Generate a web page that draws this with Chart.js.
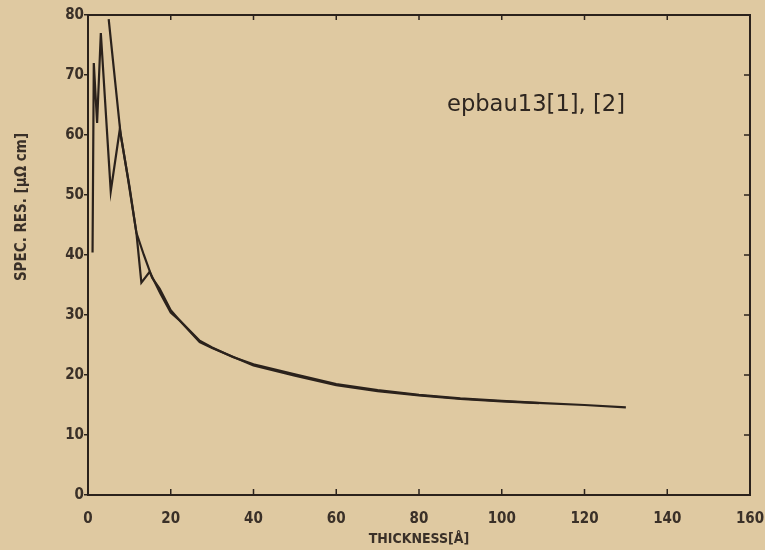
<!DOCTYPE html>
<html>
<head>
<meta charset="utf-8">
<script src="https://cdn.jsdelivr.net/npm/chart.js@4/dist/chart.umd.min.js"></script>
<style>
  html, body { margin: 0; padding: 0; background: #dfc9a1; overflow: hidden; }
  #chart { display: block; }
</style>
</head>
<body>
<canvas id="chart" width="765" height="550"></canvas>
<script>
// series [1] – spiky at small thickness, ends near 109 Å
const thickness1 = [1.1, 1.4, 2.2, 3.1, 5.5, 7.7, 9.6, 11.7, 12.9, 14.9, 17.5, 20, 22, 27, 30, 40, 50, 60, 70, 80, 90, 100, 109];
const resistivity1 = [40.4, 72.0, 62.0, 77.0, 50.6, 61.0, 53.0, 43.7, 35.4, 37.2, 33.6, 30.4, 29.2, 25.5, 24.5, 21.6, 19.9, 18.3, 17.3, 16.6, 16.0, 15.6, 15.3];

// series [2] – smoother, runs out to ~130 Å
const thickness2 = [5.0, 7.9, 10, 11.7, 13.5, 15.5, 17.3, 20, 22, 27, 30, 35, 40, 50, 60, 70, 80, 90, 100, 110, 120, 130];
const resistivity2 = [79.3, 60.0, 51.5, 43.7, 40.0, 36.2, 34.4, 30.8, 29.2, 25.7, 24.6, 23.0, 21.8, 20.1, 18.5, 17.5, 16.7, 16.1, 15.7, 15.3, 15.0, 14.6];

const xTicks = [0, 20, 40, 60, 80, 100, 120, 140, 160];
const yTicks = [0, 10, 20, 30, 40, 50, 60, 70, 80];

const ink = "#2b221c";
const paper = "#dfc9a1";
const tickFont = "'Liberation Sans Narrow', 'DejaVu Sans Condensed', 'Liberation Sans', sans-serif";

function toPoints(xs, ys) {
    return xs.map((x, i) => ({ x: x, y: ys[i] }));
}

const plotDecor = {
    id: "plotDecor",
    beforeDraw(chart) {
        const ctx = chart.ctx;
        ctx.save();
        ctx.fillStyle = paper;
        ctx.fillRect(0, 0, chart.width, chart.height);
        ctx.restore();
    },
    afterDraw(chart) {
        const ctx = chart.ctx;
        const a = chart.chartArea;
        const xs = chart.scales.x;
        const ys = chart.scales.y;
        ctx.save();
        ctx.strokeStyle = ink;
        ctx.lineWidth = 2;
        ctx.strokeRect(a.left, a.top, a.right - a.left, a.bottom - a.top);

        // inward tick marks on bottom, top and right
        ctx.lineWidth = 1.5;
        ctx.beginPath();
        xTicks.forEach(v => {
            const px = xs.getPixelForValue(v);
            ctx.moveTo(px, a.bottom);
            ctx.lineTo(px, a.bottom - 6);
            ctx.moveTo(px, a.top);
            ctx.lineTo(px, a.top + 5);
        });
        yTicks.forEach(v => {
            const py = ys.getPixelForValue(v);
            ctx.moveTo(a.right, py);
            ctx.lineTo(a.right - 6, py);
        });
        ctx.stroke();

        // annotation
        ctx.fillStyle = "#2e2620";
        ctx.font = "23px 'DejaVu Sans', sans-serif";
        ctx.textBaseline = "alphabetic";
        ctx.textAlign = "left";
        ctx.fillText("epbau13[1], [2]", 447, 111, 178);

        // y-axis title
        ctx.translate(22, 207);
        ctx.rotate(-Math.PI / 2);
        ctx.textAlign = "center";
        ctx.textBaseline = "middle";
        ctx.font = "bold 15px " + tickFont;
        ctx.fillStyle = "#3a3028";
        ctx.fillText("SPEC. RES. [\u03bc\u03a9 cm]", 0, 0);
        ctx.restore();
    }
};

const config = {
    type: "line",
    data: {
        datasets: [
            {
                label: "[1]",
                data: toPoints(thickness1, resistivity1),
                borderColor: ink,
                borderWidth: 2.2,
                pointRadius: 0,
                tension: 0,
                fill: false,
            },
            {
                label: "[2]",
                data: toPoints(thickness2, resistivity2),
                borderColor: ink,
                borderWidth: 2.2,
                pointRadius: 0,
                tension: 0,
                fill: false,
            },
        ],
    },
    options: {
        responsive: false,
        animation: false,
        layout: { autoPadding: false, padding: { top: 15, right: 15, left: 0, bottom: 0 } },
        plugins: {
            legend: { display: false },
            tooltip: { enabled: false },
        },
        scales: {
            x: {
                type: "linear",
                min: 0,
                max: 160,
                afterBuildTicks: s => { s.ticks = xTicks.map(v => ({ value: v })); },
                afterFit: s => { s.height = 55; s.paddingLeft = 0; s.paddingRight = 0; },
                grid: { display: false, drawTicks: false },
                border: { display: false },
                ticks: {
                    color: "#3a3028",
                    padding: 15,
                    maxRotation: 0,
                    font: { family: tickFont, size: 15, weight: "bold" },
                },
                title: {
                    display: true,
                    text: "THICKNESS[\u00c5]",
                    color: "#3a3028",
                    padding: { top: 0, bottom: 2 },
                    font: { family: tickFont, size: 14, weight: "bold" },
                },
            },
            y: {
                min: 0,
                max: 80,
                afterBuildTicks: s => { s.ticks = yTicks.map(v => ({ value: v })); },
                afterFit: s => { s.width = 88; s.paddingTop = 0; s.paddingBottom = 0; },
                grid: { drawOnChartArea: false, drawTicks: true, tickLength: 4, color: ink, lineWidth: 1.5 },
                border: { display: false },
                ticks: {
                    color: "#3a3028",
                    padding: 0,
                    font: { family: tickFont, size: 15, weight: "bold" },
                },
            },
        },
    },
    plugins: [plotDecor],
};

const canvas = document.getElementById("chart");
if (canvas) {
    new Chart(canvas, config);
}
</script>
</body>
</html>
